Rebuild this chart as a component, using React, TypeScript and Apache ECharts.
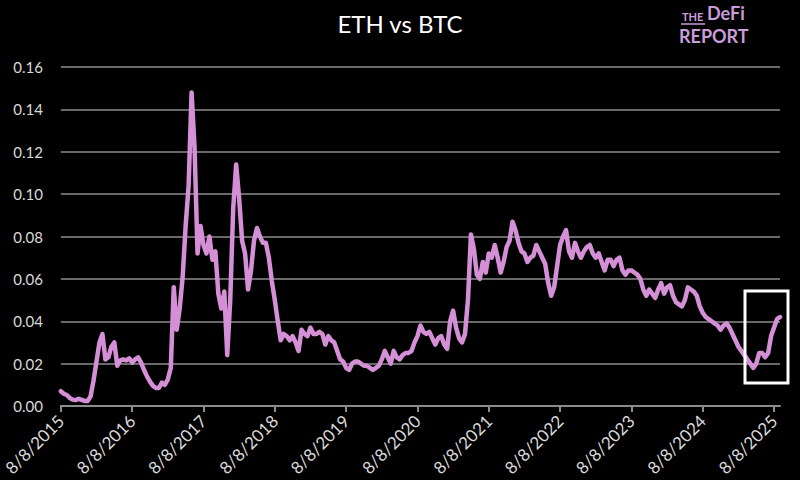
import React, { useEffect, useRef } from "react";
import * as echarts from "echarts";

// ETH/BTC ratio, semi-monthly samples starting 8/8/2015 (24 per year)
const ratio: number[] = [
  // 2015-08 .. 2016-07
  0.007, 0.0058, 0.0052, 0.0038, 0.003, 0.0028, 0.0034, 0.0029, 0.0024, 0.0024, 0.0045, 0.012,
  0.021, 0.03, 0.034, 0.022, 0.023, 0.028, 0.03, 0.019, 0.0215, 0.022, 0.0215, 0.0225,
  // 2016-08 .. 2017-07
  0.0205, 0.022, 0.023, 0.0205, 0.017, 0.014, 0.0115, 0.0095, 0.0085, 0.0085, 0.011, 0.01,
  0.0125, 0.018, 0.056, 0.036, 0.046, 0.061, 0.085, 0.104, 0.148, 0.122, 0.072, 0.085,
  // 2017-08 .. 2018-07
  0.076, 0.072, 0.08, 0.069, 0.073, 0.053, 0.046, 0.054, 0.024, 0.05, 0.093, 0.114,
  0.098, 0.078, 0.072, 0.055, 0.064, 0.078, 0.084, 0.08, 0.077, 0.077, 0.07, 0.059,
  // 2018-08 .. 2019-07
  0.05, 0.04, 0.031, 0.034, 0.033, 0.031, 0.033, 0.03, 0.026, 0.036, 0.034, 0.033,
  0.037, 0.034, 0.034, 0.035, 0.034, 0.029, 0.033, 0.031, 0.03, 0.026, 0.022, 0.021,
  // 2019-08 .. 2020-07
  0.018, 0.017, 0.02, 0.021, 0.021, 0.02, 0.019, 0.019, 0.018, 0.017, 0.018, 0.019,
  0.022, 0.026, 0.023, 0.02, 0.026, 0.023, 0.022, 0.024, 0.025, 0.025, 0.026, 0.03,
  // 2020-08 .. 2021-07
  0.033, 0.038, 0.035, 0.034, 0.035, 0.032, 0.029, 0.032, 0.033, 0.029, 0.027, 0.04,
  0.045, 0.037, 0.032, 0.03, 0.034, 0.05, 0.081, 0.074, 0.062, 0.06, 0.068, 0.063,
  // 2021-08 .. 2022-07
  0.072, 0.07, 0.076, 0.07, 0.063, 0.068, 0.075, 0.078, 0.087, 0.083, 0.077, 0.073,
  0.072, 0.068, 0.07, 0.071, 0.076, 0.073, 0.07, 0.067, 0.058, 0.052, 0.056, 0.066,
  // 2022-08 .. 2023-07
  0.076, 0.08, 0.083, 0.073, 0.07, 0.077, 0.073, 0.07, 0.073, 0.075, 0.076, 0.072,
  0.07, 0.072, 0.068, 0.064, 0.069, 0.069, 0.066, 0.069, 0.07, 0.064, 0.062, 0.064,
  // 2023-08 .. 2024-07
  0.064, 0.063, 0.062, 0.06, 0.055, 0.052, 0.055, 0.053, 0.051, 0.055, 0.058, 0.053,
  0.056, 0.057, 0.052, 0.049, 0.048, 0.047, 0.05, 0.056, 0.055, 0.054, 0.052, 0.047,
  // 2024-08 .. 2025-07
  0.044, 0.042, 0.041, 0.04, 0.039, 0.038, 0.036, 0.038, 0.039, 0.037, 0.034, 0.031,
  0.028, 0.026, 0.024, 0.022, 0.02, 0.018, 0.02, 0.025, 0.025, 0.023, 0.025, 0.033,
  // 2025-08
  0.037, 0.041, 0.042,
];

const startYear = 2015;
const yearTicks = [0, 1, 2, 3, 4, 5, 6, 7, 8, 9, 10];
const samplesPerYear = 24;
const title = "ETH vs BTC";

export default function App() {
  const ref = useRef<HTMLDivElement>(null);
  useEffect(() => {
    if (!ref.current) return;
    const chart = echarts.init(ref.current, null, { renderer: "svg" });
    const data = ratio.map((v, i) => [i / samplesPerYear, v]);
    const logoColor = "#c99ddb";
    chart.setOption({
      animation: false,
      backgroundColor: "#000000",
      title: {
        text: title,
        left: "center",
        top: 6,
        textStyle: { color: "#ffffff", fontSize: 24, fontWeight: "normal", fontFamily: "Lato" },
      },
      grid: { left: 60, right: 20, top: 67, bottom: 74 },
      xAxis: {
        type: "value",
        min: 0,
        max: (ratio.length - 1) / samplesPerYear,
        interval: 1,
        splitLine: { show: false },
        axisLine: { show: true, lineStyle: { color: "#8c8c8c", width: 2 } },
        axisTick: { show: true, length: 6, lineStyle: { color: "#8c8c8c", width: 2 }, customValues: yearTicks },
        axisLabel: {
          customValues: yearTicks,
          rotate: 45,
          color: "#d9d9d9",
          fontSize: 17,
          fontFamily: "Lato",
          margin: 12,
          formatter: (v: number) => `8/8/${startYear + Math.round(v)}`,
        },
      },
      yAxis: {
        type: "value",
        min: 0,
        max: 0.16,
        interval: 0.02,
        axisLine: { show: false },
        axisTick: { show: false },
        splitLine: { show: true, lineStyle: { color: "#8c8c8c", width: 1.5 } },
        axisLabel: {
          color: "#d9d9d9",
          fontSize: 15,
          fontFamily: "Lato",
          margin: 18,
          formatter: (v: number) => v.toFixed(2),
        },
      },
      series: [
        {
          type: "line",
          data,
          showSymbol: false,
          lineStyle: { color: "#d58fd6", width: 4.5, cap: "round", join: "round" },
          itemStyle: { color: "#d58fd6" },
          z: 3,
        },
      ],
      graphic: [
        {
          type: "rect",
          shape: { x: 745, y: 291, width: 43, height: 92 },
          style: { fill: "none", stroke: "#ffffff", lineWidth: 3 },
          z: 10,
        },
        {
          type: "text",
          x: 682,
          y: 11,
          style: { text: "THE", fill: logoColor, fontSize: 11, lineHeight: 11, fontWeight: "bold", fontFamily: "Lato" },
        },
        {
          type: "line",
          shape: { x1: 681, y1: 24, x2: 705, y2: 24 },
          style: { stroke: logoColor, lineWidth: 1.5 },
        },
        {
          type: "text",
          x: 707,
          y: 4,
          style: { text: "DeFi", fill: logoColor, fontSize: 18, lineHeight: 18, fontWeight: "bold", fontFamily: "Lato" },
        },
        {
          type: "text",
          x: 679,
          y: 27,
          style: { text: "REPORT", fill: logoColor, fontSize: 18, lineHeight: 17, fontWeight: "bold", fontFamily: "Lato" },
        },
      ],
    });
    return () => chart.dispose();
  }, []);
  return (
    <div
      ref={ref}
      style={{ position: "fixed", left: 0, top: 0, width: 800, height: 480, background: "#000" }}
    />
  );
}
